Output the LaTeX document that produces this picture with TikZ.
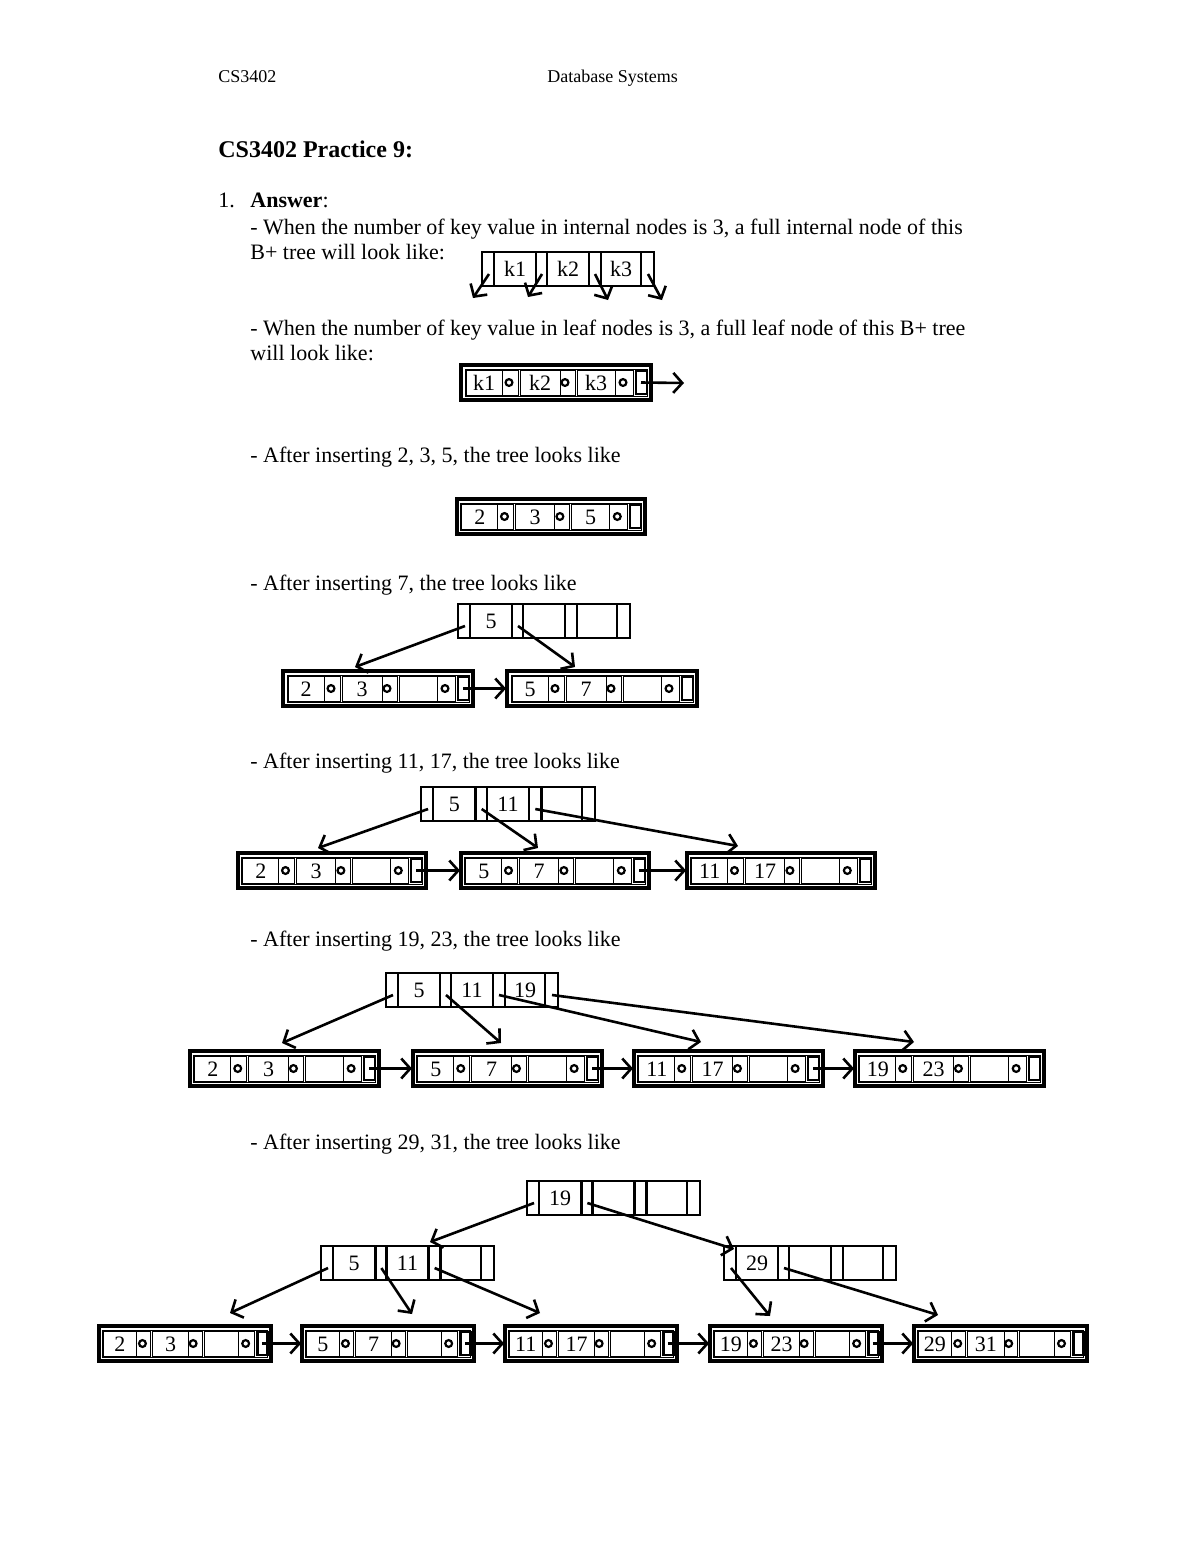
\documentclass[tikz,border=0pt]{standalone}
\usepackage{fontspec}
\setmainfont{Liberation Serif}
\usetikzlibrary{arrows.meta}

\tikzset{
  leafframe/.style={line width=1.8pt},
  cellline/.style={line width=0.5pt},
  innerframe/.style={line width=0.8pt},
  ptrline/.style={line width=1.2pt},
  ptrdot/.style={circle, draw, line width=1.1pt, inner sep=0pt, minimum size=3.4pt},
  keytext/.style={inner sep=0pt, font=\fontsize{11}{13}\selectfont},
  txt/.style={anchor=base west, inner sep=0pt, font=\fontsize{11}{13}\selectfont},
  downptr/.style={line width=1.3pt, -{Straight Barb[length=4.5pt,width=10pt]}},
  nextptr/.style={line width=1.3pt, -{Straight Barb[length=4.5pt,width=10pt]}}
}

% leaf node: name, left, top, width, three keys
\newcommand{\leafnode}[7]{%
  \begin{scope}[shift={(#2,#3)}, xscale=#4/190]
    \draw[leafframe] (0,0) rectangle (190,35);
    \draw[cellline] (4,4) rectangle (186,31);
    \draw[cellline] (5,5) rectangle (57,30) (41,5) -- (41,30);
    \draw[cellline] (59,5) rectangle (114,30) (99,5) -- (99,30);
    \draw[cellline] (116,5) rectangle (172,30) (154,5) -- (154,30);
    \draw[ptrline] (175,6) rectangle (186,29);
    \node[keytext] (#1-k1) at (23,18) {#5};
    \node[keytext] (#1-k2) at (79,18) {#6};
    \node[keytext] (#1-k3) at (135,18) {#7};
    \node[ptrdot] (#1-d1) at (48,17.5) {};
    \node[ptrdot] (#1-d2) at (104,17.5) {};
    \node[ptrdot] (#1-d3) at (162,17.5) {};
    \coordinate (#1-in) at (-1,17.5);
    \coordinate (#1-out) at (180,17.5);
  \end{scope}}

% internal node: name, left, top, width, three keys
\newcommand{\innernode}[7]{%
  \begin{scope}[shift={(#2,#3)}, xscale=#4/172]
    \draw[innerframe] (0,0) rectangle (172,34);
    \foreach \xa/\xb in {0/12, 54/65, 107/119, 159/172}
      \draw[ptrline] (\xa,1) -- (\xa,33) (\xb,1) -- (\xb,33);
    \node[keytext] (#1-k1) at (33,17) {#5};
    \node[keytext] (#1-k2) at (86,17) {#6};
    \node[keytext] (#1-k3) at (139,17) {#7};
    \coordinate (#1-p1) at (7,22);
    \coordinate (#1-p2) at (60,22);
    \coordinate (#1-p3) at (113,22);
    \coordinate (#1-p4) at (166,22);
  \end{scope}}

\begin{document}
\begin{tikzpicture}[x=0.5pt, y=-0.5pt]
  % Page
  \fill[white] (0,0) rectangle (1200,1553);

  % Header and text
  \node[txt, font=\fontsize{9}{11}\selectfont] (hdr-course) at (218,82) {CS3402};
  \node[txt, font=\fontsize{9}{11}\selectfont] (hdr-title) at (547,82) {Database Systems};
  \node[txt, font=\fontsize{12}{14}\selectfont\bfseries] (title) at (218,157) {CS3402 Practice 9:};
  \node[txt] (q-num) at (218,207) {1.};
  \node[txt] (q-ans) at (250,207) {\textbf{Answer}:};
  \node[txt] (line-in1) at (250,234) {- When the number of key value in internal nodes is 3, a full internal node of this};
  \node[txt] (line-in2) at (250,259) {B+ tree will look like:};
  \node[txt] (line-lf1) at (250,335) {- When the number of key value in leaf nodes is 3, a full leaf node of this B+ tree};
  \node[txt] (line-lf2) at (250,360) {will look like:};
  \node[txt] (line-s3) at (250,462) {- After inserting 2, 3, 5, the tree looks like};
  \node[txt] (line-s7) at (250,590) {- After inserting 7, the tree looks like};
  \node[txt] (line-s17) at (250,768) {- After inserting 11, 17, the tree looks like};
  \node[txt] (line-s23) at (250,946) {- After inserting 19, 23, the tree looks like};
  \node[txt] (line-s31) at (250,1149) {- After inserting 29, 31, the tree looks like};

  % Full internal node
  \innernode{fin}{482}{252}{172}{k1}{k2}{k3}
  \coordinate (fin-t1) at (473,298);
  \coordinate (fin-t2) at (528,297);
  \coordinate (fin-t3) at (608,300);
  \coordinate (fin-t4) at (662,300);
  \draw[downptr] (fin-p1) -- (fin-t1);
  \draw[downptr] (fin-p2) -- (fin-t2);
  \draw[downptr] (fin-p3) -- (fin-t3);
  \draw[downptr] (fin-p4) -- (fin-t4);

  % Full leaf node
  \leafnode{flf}{461}{365}{190}{k1}{k2}{k3}
  \coordinate (flf-t) at (684,383);
  \draw[nextptr] (flf-out) -- (flf-t);

  % After 2, 3, 5
  \leafnode{s3}{457}{499}{188}{2}{3}{5}

  % After 7
  \innernode{s7r}{458}{604}{172}{5}{}{}
  \leafnode{s7a}{283}{671}{190}{2}{3}{}
  \leafnode{s7b}{507}{671}{190}{5}{7}{}
  \coordinate (s7-t1) at (355,667);
  \coordinate (s7-t2) at (575,667);
  \draw[downptr] (s7r-p1) -- (s7-t1);
  \draw[downptr] (s7r-p2) -- (s7-t2);
  \draw[nextptr] (s7a-out) -- (s7b-in);

  % After 11, 17
  \innernode{s17r}{421}{787}{174}{5}{11}{}
  \leafnode{s17a}{238}{853}{188}{2}{3}{}
  \leafnode{s17b}{461}{853}{188}{5}{7}{}
  \leafnode{s17c}{687}{853}{188}{11}{17}{}
  \coordinate (s17-t1) at (318,848);
  \coordinate (s17-t2) at (538,848);
  \coordinate (s17-t3) at (738,846);
  \draw[downptr] (s17r-p1) -- (s17-t1);
  \draw[downptr] (s17r-p2) -- (s17-t2);
  \draw[downptr] (s17r-p3) -- (s17-t3);
  \draw[nextptr] (s17a-out) -- (s17b-in);
  \draw[nextptr] (s17b-out) -- (s17c-in);

  % After 19, 23
  \innernode{s23r}{386}{973}{172}{5}{11}{19}
  \leafnode{s23a}{190}{1051}{189}{2}{3}{}
  \leafnode{s23b}{413}{1051}{189}{5}{7}{}
  \leafnode{s23c}{634}{1051}{189}{11}{17}{}
  \leafnode{s23d}{855}{1051}{189}{19}{23}{}
  \coordinate (s23-t1) at (282,1043);
  \coordinate (s23-t2) at (501,1043);
  \coordinate (s23-t3) at (701,1042);
  \coordinate (s23-t4) at (914,1042);
  \draw[downptr] (s23r-p1) -- (s23-t1);
  \draw[downptr] (s23r-p2) -- (s23-t2);
  \draw[downptr] (s23r-p3) -- (s23-t3);
  \draw[downptr] (s23r-p4) -- (s23-t4);
  \draw[nextptr] (s23a-out) -- (s23b-in);
  \draw[nextptr] (s23b-out) -- (s23c-in);
  \draw[nextptr] (s23c-out) -- (s23d-in);

  % After 29, 31
  \innernode{s31r}{527}{1181}{173}{19}{}{}
  \innernode{s31l}{321}{1246}{173}{5}{11}{}
  \innernode{s31m}{724}{1246}{172}{29}{}{}
  \leafnode{s31a}{99}{1326}{172}{2}{3}{}
  \leafnode{s31b}{302}{1326}{172}{5}{7}{}
  \leafnode{s31c}{505}{1326}{172}{11}{17}{}
  \leafnode{s31d}{710}{1326}{172}{19}{23}{}
  \leafnode{s31e}{914}{1326}{173}{29}{31}{}
  \coordinate (s31-u1) at (430,1242);
  \coordinate (s31-u2) at (734,1249);
  \coordinate (s31-t1) at (230,1313);
  \coordinate (s31-t2) at (412,1314);
  \coordinate (s31-t3) at (540,1313);
  \coordinate (s31-t4) at (770,1316);
  \coordinate (s31-t5) at (938,1315);
  \draw[downptr] (s31r-p1) -- (s31-u1);
  \draw[downptr] (s31r-p2) -- (s31-u2);
  \draw[downptr] (s31l-p1) -- (s31-t1);
  \draw[downptr] (s31l-p2) -- (s31-t2);
  \draw[downptr] (s31l-p3) -- (s31-t3);
  \draw[downptr] (s31m-p1) -- (s31-t4);
  \draw[downptr] (s31m-p2) -- (s31-t5);
  \draw[nextptr] (s31a-out) -- (s31b-in);
  \draw[nextptr] (s31b-out) -- (s31c-in);
  \draw[nextptr] (s31c-out) -- (s31d-in);
  \draw[nextptr] (s31d-out) -- (s31e-in);
\end{tikzpicture}
\end{document}
